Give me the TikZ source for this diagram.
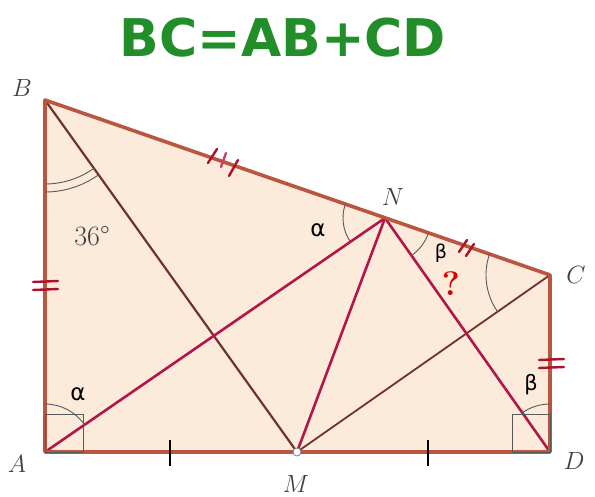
\documentclass[tikz,border=0pt]{standalone}
\usepackage{fontspec}
\newfontfamily\grk{DejaVu Sans}
\newfontfamily\ttl{DejaVu Sans}
\usetikzlibrary{angles}
\definecolor{sidecol}{RGB}{186,86,64}
\definecolor{fillcol}{RGB}{252,234,218}
\definecolor{crimcol}{RGB}{178,22,74}
\definecolor{browncol}{RGB}{112,50,44}
\definecolor{greencol}{RGB}{34,142,42}
\definecolor{tickcol}{RGB}{172,18,42}
\begin{document}
\begin{tikzpicture}[x=1pt,y=-1pt,
    side/.style={draw=sidecol, line width=3.6pt, line join=round},
    cevian/.style={draw=crimcol, line width=2.6pt},
    inner/.style={draw=browncol, line width=2.2pt},
    arcmark/.style={draw=gray!70!black, line width=0.9pt},
    tick/.style={draw=tickcol, line width=2.4pt, line cap=round},
    lbl/.style={font=\fontsize{24}{24}\selectfont, text=black!75},
    grklbl/.style={font=\grk\fontsize{23}{23}\selectfont, text=black}]
    \useasboundingbox (0,0) rectangle (595,497);
    % Points
    \coordinate (A) at (45,452);
    \coordinate (B) at (45,100);
    \coordinate (C) at (550,275);
    \coordinate (D) at (550,452);
    \coordinate (M) at (297,452);
    \coordinate (N) at (385,218);
    % Title
    \node[font=\ttl\bfseries\fontsize{52}{52}\selectfont, text=greencol] (title) at (283,38) {BC=AB+CD};
    % Quadrilateral
    \fill[fillcol] (A) -- (B) -- (C) -- (D) -- cycle;
    % Segments
    \draw[inner] (B) -- (M);
    \draw[inner, line width=1.8pt] (M) -- (C);
    \draw[cevian] (A) -- (N) -- (D);
    \draw[cevian] (N) -- (M);
    \draw[side] (A) -- (B) -- (C) -- (D) -- cycle;
    % Angles
    \pic[arcmark, angle radius=84pt] {angle = A--B--M};
    \pic[arcmark, angle radius=92pt] {angle = A--B--M};
    \pic[arcmark, angle radius=48pt] {angle = N--A--B};
    \pic[arcmark, angle radius=42pt] {angle = B--N--A};
    \pic[arcmark, angle radius=46pt] {angle = D--N--C};
    \pic[arcmark, angle radius=64pt] {angle = B--C--M};
    \pic[arcmark, angle radius=48pt] {angle = C--D--N};
    \draw[arcmark] (A) rectangle ++(38,-38);
    \draw[arcmark] (D) rectangle ++(-38,-38);
    % Equal marks
    \draw[tick] (33,282) -- (58,281);
    \draw[tick] (33,290) -- (58,289);
    \draw[tick] (539,360) -- (564,359);
    \draw[tick] (539,368) -- (564,367);
    \draw[tick] (208,163) -- (217,149);
    \draw[tick, draw=crimcol!80!white] (221,167) -- (226,153);
    \draw[tick] (229,176) -- (238,160);
    \draw[tick] (459,252) -- (467,240);
    \draw[tick] (466,256) -- (474,244);
    \draw[black, line width=1.6pt] (170,440) -- (170,466);
    \draw[black, line width=1.6pt] (428,440) -- (428,466);
    \draw[gray, fill=white, line width=0.8pt] (M) circle (4pt);
    % Labels
    \node[lbl] (lblB) at (22,88) {$B$};
    \node[lbl] (lblC) at (576,275) {$C$};
    \node[lbl] (lblA) at (17,464) {$A$};
    \node[lbl] (lblD) at (574,461) {$D$};
    \node[lbl] (lblM) at (296,484) {$M$};
    \node[lbl] (lblN) at (393,197) {$N$};
    \node[lbl, font=\fontsize{28}{28}\selectfont] (ang) at (92,236) {36°};
    \node[grklbl] (alA) at (78,394) {α};
    \node[grklbl] (alN) at (318,230) {α};
    \node[grklbl, font=\grk\fontsize{19}{19}\selectfont] (beN) at (441,253) {β};
    \node[grklbl, font=\grk\fontsize{21}{21}\selectfont] (beD) at (531,385) {β};
    \node[font=\bfseries\fontsize{34}{34}\selectfont, text=red!85!black] (qm) at (451,284) {?};
\end{tikzpicture}
\end{document}
